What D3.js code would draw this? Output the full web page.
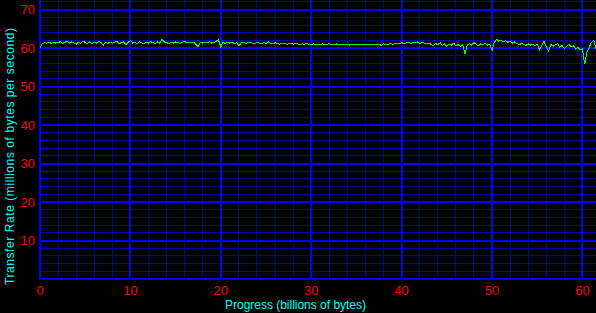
<!DOCTYPE html>
<html lang="en"><head><meta charset="UTF-8">
<script src="https://d3js.org/d3.v7.min.js"></script>
<style>
    html, body { margin: 0; padding: 0; background: #000; }
    svg { display: block; }
    text { font-family: "Liberation Sans", Arial, sans-serif; }
</style>
</head>
<body>
<div id="chart"></div>
<script>
//here comes the data
var xTicks = [0, 10, 20, 30, 40, 50, 60];
var yTicks = [10, 20, 30, 40, 50, 60, 70];
var xMax = 61.5, yMax = 72.5;
var minorStep = 2;
var step = 0.25; // billions of bytes between samples

// transfer rate, millions of bytes per second, one row = 5 billion bytes
var rate = [
    60.0, 61.2, 61.4, 61.3, 61.6, 61.2, 61.5, 61.3, 61.4, 61.7, 61.2, 61.5, 61.8, 61.3, 61.6, 61.4, 61.0, 61.5, 61.3, 61.9,
    61.4, 61.2, 61.6, 61.1, 61.5, 61.3, 61.7, 61.4, 60.8, 61.5, 61.2, 61.6, 61.3, 61.5, 61.8, 61.2, 61.4, 61.6, 60.9, 61.5,
    62.0, 61.3, 61.5, 61.2, 61.6, 61.4, 61.1, 61.5, 61.3, 61.7, 61.4, 61.2, 61.6, 61.3, 62.3, 61.6, 61.4, 61.2, 61.5, 61.3,
    61.6, 61.4, 61.2, 61.5, 61.8, 61.3, 61.6, 61.4, 61.5, 61.0, 60.4, 61.5, 61.3, 61.6, 61.4, 61.7, 61.3, 61.5, 61.8, 62.1,
    60.3, 61.6, 61.2, 61.5, 61.3, 61.6, 61.1, 61.4, 60.6, 61.3, 61.5, 61.2, 61.4, 61.6, 61.3, 61.1, 61.5, 61.3, 61.2, 61.4,
    61.2, 61.6, 61.3, 61.1, 61.4, 61.2, 61.0, 61.3, 61.2, 61.0, 61.1, 61.3, 61.0, 61.2, 61.1, 60.9, 61.1, 61.0, 61.2, 60.9,
    61.0, 61.1, 60.9, 61.0, 60.8, 61.1, 60.9, 61.0, 61.2, 60.9, 60.8, 61.1, 60.9, 61.0, 60.8, 60.9, 61.0, 60.8, 61.1, 60.9,
    60.9, 61.0, 60.9, 60.9, 61.0, 60.9, 60.9, 60.9, 61.0, 60.9, 61.0, 60.7, 61.1, 60.9, 61.0, 61.2, 61.0, 61.1, 61.3, 61.1,
    61.4, 61.2, 61.3, 61.5, 61.2, 61.4, 61.3, 61.6, 61.2, 61.4, 61.3, 61.1, 61.3, 61.0, 60.6, 61.2, 60.9, 61.4, 60.7, 61.1,
    60.5, 61.0, 60.8, 61.3, 60.6, 60.9, 60.4, 61.0, 58.4, 60.7, 61.2, 60.8, 61.4, 61.0, 60.6, 61.1, 60.9, 61.3, 60.8, 61.0,
    59.4, 61.5, 62.3, 61.8, 62.0, 61.6, 61.9, 61.5, 61.8, 61.3, 61.6, 61.2, 60.8, 61.3, 61.0, 60.7, 61.1, 60.8, 61.0, 60.7,
    61.0, 59.6, 60.6, 61.8, 60.3, 59.2, 61.0, 60.5, 60.8, 61.2, 60.2, 60.7, 59.9, 60.5, 61.0, 60.3, 60.6, 59.8, 60.2, 59.6,
    59.8, 55.8, 58.9, 60.2, 61.5, 62.1, 59.9
];
//++++++++++++++++++++++++++++++++++++++++++++++++++++++++++++++++++++++
//main js code
var width = 596, height = 313;
var left = 40, bottom = 279;

var svg = d3.select("#chart").append("svg")
    .attr("width", width)
    .attr("height", height);

svg.append("rect").attr("width", width).attr("height", height).attr("fill", "#000");

var x = d3.scaleLinear().domain([0, xMax]).range([left, width]);
var y = d3.scaleLinear().domain([0, yMax]).range([bottom, 0]);

var xMinor = d3.range(0, xMax, minorStep).filter(function(v) { return xTicks.indexOf(v) < 0; });
var yMinor = d3.range(minorStep, yMax, minorStep).filter(function(v) { return yTicks.indexOf(v) < 0; });

var grid = svg.append("g").attr("shape-rendering", "crispEdges");

// minor grid
grid.selectAll(".vminor").data(xMinor).enter().append("line")
    .attr("x1", function(v) { return x(v); }).attr("x2", function(v) { return x(v); })
    .attr("y1", 0).attr("y2", bottom)
    .attr("stroke", "#0000a8").attr("stroke-width", 1);
grid.selectAll(".hminor").data(yMinor).enter().append("line")
    .attr("x1", left).attr("x2", width)
    .attr("y1", function(v) { return y(v); }).attr("y2", function(v) { return y(v); })
    .attr("stroke", "#0000a8").attr("stroke-width", 1);

// major grid
grid.selectAll(".vmajor").data(xTicks).enter().append("line")
    .attr("x1", function(v) { return x(v); }).attr("x2", function(v) { return x(v); })
    .attr("y1", 0).attr("y2", bottom + 1)
    .attr("stroke", "#0000ff").attr("stroke-width", 2);
grid.selectAll(".hmajor").data([0].concat(yTicks)).enter().append("line")
    .attr("x1", left - 1).attr("x2", width)
    .attr("y1", function(v) { return y(v); }).attr("y2", function(v) { return y(v); })
    .attr("stroke", "#0000ff").attr("stroke-width", 2);

// the data line
var line = d3.line()
    .x(function(v, i) { return x(i * step); })
    .y(function(v) { return y(v); });

svg.append("path")
    .datum(rate)
    .attr("d", line)
    .attr("fill", "none")
    .attr("stroke", "#00ff00")
    .attr("stroke-width", 1)
    .attr("shape-rendering", "crispEdges");

// tick labels
svg.selectAll(".ylab").data(yTicks).enter().append("text")
    .attr("x", 35)
    .attr("y", function(v) { return y(v); })
    .attr("dy", "0.35em")
    .attr("text-anchor", "end")
    .attr("fill", "#ff0000")
    .style("font-size", "13px")
    .text(function(v) { return v; });

svg.selectAll(".xlab").data(xTicks).enter().append("text")
    .attr("x", function(v) { return x(v); })
    .attr("y", 295)
    .attr("text-anchor", "middle")
    .attr("fill", "#ff0000")
    .style("font-size", "13px")
    .text(function(v) { return v; });

// axis titles
svg.append("text")
    .attr("x", 295.5)
    .attr("y", 309)
    .attr("text-anchor", "middle")
    .attr("fill", "#00ffff")
    .style("font-size", "12px")
    .attr("textLength", 141)
    .text("Progress (billions of bytes)");

svg.append("text")
    .attr("transform", "translate(13.5,156.5) rotate(-90)")
    .attr("text-anchor", "middle")
    .attr("fill", "#00ffff")
    .style("font-size", "12px")
    .attr("textLength", 257)
    .text("Transfer Rate (millions of bytes per second)");
//end of main js code
</script>
</body>
</html>
